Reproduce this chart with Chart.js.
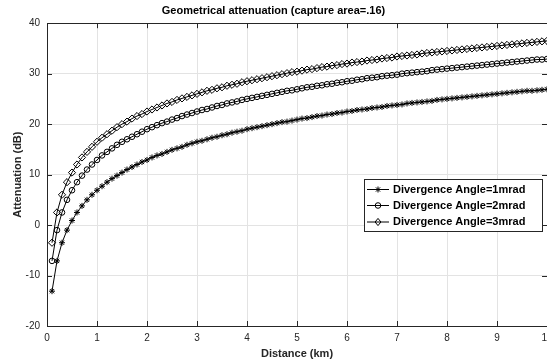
<!DOCTYPE html>
<html lang="en">
<head>
    <meta charset="UTF-8">
    <title>Geometrical attenuation</title>
    <script src="https://cdn.jsdelivr.net/npm/chart.js"></script>
    <style>
        body {
            margin: 0;
            padding: 0;
            background-color: white;
            overflow: hidden;
        }

        .frame {
            width: 547px;
            height: 362px;
            overflow: hidden;
        }

        .chart-box {
            width: 560px;
            height: 362px;
            position: relative;
        }
    </style>
</head>
<body>
<div class="frame">
    <div class="chart-box">
        <canvas id="atten-chart"></canvas>
    </div>
</div>
<script>
    // distance in km
    var distance = [0.1, 0.2, 0.3, 0.4, 0.5, 0.6, 0.7, 0.8, 0.9, 1.0,
        1.1, 1.2, 1.3, 1.4, 1.5, 1.6, 1.7, 1.8, 1.9, 2.0,
        2.1, 2.2, 2.3, 2.4, 2.5, 2.6, 2.7, 2.8, 2.9, 3.0,
        3.1, 3.2, 3.3, 3.4, 3.5, 3.6, 3.7, 3.8, 3.9, 4.0,
        4.1, 4.2, 4.3, 4.4, 4.5, 4.6, 4.7, 4.8, 4.9, 5.0,
        5.1, 5.2, 5.3, 5.4, 5.5, 5.6, 5.7, 5.8, 5.9, 6.0,
        6.1, 6.2, 6.3, 6.4, 6.5, 6.6, 6.7, 6.8, 6.9, 7.0,
        7.1, 7.2, 7.3, 7.4, 7.5, 7.6, 7.7, 7.8, 7.9, 8.0,
        8.1, 8.2, 8.3, 8.4, 8.5, 8.6, 8.7, 8.8, 8.9, 9.0,
        9.1, 9.2, 9.3, 9.4, 9.5, 9.6, 9.7, 9.8, 9.9, 10.0];

    // attenuation (dB)
    var atten1mrad = [-13.1, -7.1, -3.5, -1.0, 0.9, 2.5, 3.8, 5.0, 6.0, 6.9,
        7.7, 8.5, 9.2, 9.8, 10.4, 11.0, 11.5, 12.0, 12.5, 12.9,
        13.4, 13.8, 14.1, 14.5, 14.9, 15.2, 15.5, 15.9, 16.2, 16.5,
        16.7, 17.0, 17.3, 17.5, 17.8, 18.0, 18.3, 18.5, 18.7, 19.0,
        19.2, 19.4, 19.6, 19.8, 20.0, 20.2, 20.4, 20.5, 20.7, 20.9,
        21.1, 21.2, 21.4, 21.6, 21.7, 21.9, 22.0, 22.2, 22.3, 22.5,
        22.6, 22.8, 22.9, 23.0, 23.2, 23.3, 23.4, 23.6, 23.7, 23.8,
        23.9, 24.1, 24.2, 24.3, 24.4, 24.5, 24.6, 24.8, 24.9, 25.0,
        25.1, 25.2, 25.3, 25.4, 25.5, 25.6, 25.7, 25.8, 25.9, 26.0,
        26.1, 26.2, 26.3, 26.4, 26.5, 26.6, 26.6, 26.7, 26.8, 26.9];

    var atten2mrad = [-7.1, -1.0, 2.5, 5.0, 6.9, 8.5, 9.8, 11.0, 12.0, 12.9,
        13.8, 14.5, 15.2, 15.9, 16.5, 17.0, 17.5, 18.0, 18.5, 19.0,
        19.4, 19.8, 20.2, 20.5, 20.9, 21.2, 21.6, 21.9, 22.2, 22.5,
        22.8, 23.0, 23.3, 23.6, 23.8, 24.1, 24.3, 24.5, 24.8, 25.0,
        25.2, 25.4, 25.6, 25.8, 26.0, 26.2, 26.4, 26.6, 26.7, 26.9,
        27.1, 27.3, 27.4, 27.6, 27.7, 27.9, 28.0, 28.2, 28.3, 28.5,
        28.6, 28.8, 28.9, 29.1, 29.2, 29.3, 29.5, 29.6, 29.7, 29.8,
        30.0, 30.1, 30.2, 30.3, 30.4, 30.5, 30.7, 30.8, 30.9, 31.0,
        31.1, 31.2, 31.3, 31.4, 31.5, 31.6, 31.7, 31.8, 31.9, 32.0,
        32.1, 32.2, 32.3, 32.4, 32.5, 32.6, 32.7, 32.8, 32.8, 32.9];

    var atten3mrad = [-3.5, 2.5, 6.0, 8.5, 10.4, 12.0, 13.4, 14.5, 15.5, 16.5,
        17.3, 18.0, 18.7, 19.4, 20.0, 20.5, 21.1, 21.6, 22.0, 22.5,
        22.9, 23.3, 23.7, 24.1, 24.4, 24.8, 25.1, 25.4, 25.7, 26.0,
        26.3, 26.6, 26.8, 27.1, 27.3, 27.6, 27.8, 28.0, 28.3, 28.5,
        28.7, 28.9, 29.1, 29.3, 29.5, 29.7, 29.9, 30.1, 30.3, 30.4,
        30.6, 30.8, 30.9, 31.1, 31.3, 31.4, 31.6, 31.7, 31.9, 32.0,
        32.2, 32.3, 32.4, 32.6, 32.7, 32.8, 33.0, 33.1, 33.2, 33.4,
        33.5, 33.6, 33.7, 33.8, 34.0, 34.1, 34.2, 34.3, 34.4, 34.5,
        34.6, 34.7, 34.8, 34.9, 35.0, 35.1, 35.2, 35.3, 35.4, 35.5,
        35.6, 35.7, 35.8, 35.9, 36.0, 36.1, 36.2, 36.3, 36.4, 36.5];

    var seriesNames = ['Divergence Angle=1mrad', 'Divergence Angle=2mrad', 'Divergence Angle=3mrad'];
    var markerStyles = ['star', 'circle', 'rectRot'];
    var markerSizes = [3, 2.8, 3.6];

    var xTicks = [0, 1, 2, 3, 4, 5, 6, 7, 8, 9, 10];
    var yTicks = [-20, -10, 0, 10, 20, 30, 40];

    var axisColor = '#262626';

    function toPoints(values) {
        return distance.map(function (d, i) {
            return {x: d, y: values[i]};
        });
    }

    function drawMarker(ctx, style, r, x, y) {
        ctx.beginPath();
        if (style === 'star') {
            ctx.moveTo(x - r, y); ctx.lineTo(x + r, y);
            ctx.moveTo(x, y - r); ctx.lineTo(x, y + r);
            var d = r * 0.707;
            ctx.moveTo(x - d, y - d); ctx.lineTo(x + d, y + d);
            ctx.moveTo(x - d, y + d); ctx.lineTo(x + d, y - d);
        } else if (style === 'circle') {
            ctx.arc(x, y, r, 0, Math.PI * 2);
        } else {
            ctx.moveTo(x, y - r); ctx.lineTo(x + r * 0.8, y);
            ctx.lineTo(x, y + r); ctx.lineTo(x - r * 0.8, y);
            ctx.closePath();
        }
        ctx.stroke();
    }

    // box round the axes, inward ticks, and the legend (MATLAB look)
    var matlabFrame = {
        id: 'matlabFrame',
        afterDraw: function (chart) {
            var ctx = chart.ctx;
            var a = chart.chartArea;
            var xs = chart.scales.x, ys = chart.scales.y;
            ctx.save();
            ctx.strokeStyle = axisColor;
            ctx.lineWidth = 1;
            ctx.strokeRect(Math.round(a.left) + 0.5, Math.round(a.top) + 0.5,
                Math.round(a.right - a.left), Math.round(a.bottom - a.top));
            ctx.beginPath();
            xTicks.forEach(function (v) {
                var px = Math.round(xs.getPixelForValue(v)) + 0.5;
                ctx.moveTo(px, a.bottom); ctx.lineTo(px, a.bottom - 5);
                ctx.moveTo(px, a.top); ctx.lineTo(px, a.top + 5);
            });
            yTicks.forEach(function (v) {
                var py = Math.round(ys.getPixelForValue(v)) + 0.5;
                ctx.moveTo(a.left, py); ctx.lineTo(a.left + 5, py);
                ctx.moveTo(a.right, py); ctx.lineTo(a.right - 5, py);
            });
            ctx.stroke();

            // legend
            var lx = 364.5, ly = 179.5, lw = 178, lh = 52;
            ctx.fillStyle = 'white';
            ctx.fillRect(lx, ly, lw, lh);
            ctx.strokeStyle = '#262626';
            ctx.strokeRect(lx, ly, lw, lh);
            ctx.font = 'bold 11px "Liberation Sans", Arial, sans-serif';
            ctx.textBaseline = 'middle';
            ctx.textAlign = 'left';
            var rows = [189.5, 205.5, 222];
            seriesNames.forEach(function (name, i) {
                var y = rows[i];
                ctx.strokeStyle = '#000';
                ctx.beginPath();
                ctx.moveTo(367, y); ctx.lineTo(389, y);
                ctx.stroke();
                drawMarker(ctx, markerStyles[i], markerSizes[i], 378, y);
                ctx.fillStyle = '#000';
                ctx.fillText(name, 393, y);
            });
            ctx.restore();
        }
    };

    var datasetsData = [atten1mrad, atten2mrad, atten3mrad];

    var ctx = document.getElementById('atten-chart').getContext('2d');
    new Chart(ctx, {
        type: 'line',
        data: {
            datasets: datasetsData.map(function (vals, i) {
                return {
                    label: seriesNames[i],
                    data: toPoints(vals),
                    borderColor: '#000',
                    borderWidth: 1,
                    pointStyle: markerStyles[i],
                    pointRadius: markerSizes[i],
                    pointBorderColor: '#000',
                    pointBackgroundColor: 'rgba(0,0,0,0)',
                    pointBorderWidth: 1,
                    tension: 0,
                    fill: false
                };
            })
        },
        options: {
            responsive: true,
            maintainAspectRatio: false,
            animation: false,
            layout: {
                padding: {left: 0, right: 13, top: 0, bottom: 0}
            },
            plugins: {
                legend: {display: false},
                tooltip: {enabled: false},
                title: {
                    display: true,
                    text: 'Geometrical attenuation (capture area=.16)',
                    color: '#000',
                    font: {family: '"Liberation Sans", Arial, sans-serif', size: 11, weight: 'bold'},
                    padding: {top: 4, bottom: 6}
                }
            },
            scales: {
                x: {
                    type: 'linear',
                    min: 0,
                    max: 10,
                    afterFit: function (scale) { scale.height = 36; },
                    afterBuildTicks: function (scale) {
                        scale.ticks = xTicks.map(function (v) { return {value: v}; });
                    },
                    ticks: {
                        autoSkip: false,
                        maxRotation: 0,
                        padding: 6,
                        color: axisColor,
                        font: {family: '"Liberation Sans", Arial, sans-serif', size: 10}
                    },
                    grid: {color: '#e3e3e3', drawTicks: false},
                    border: {display: false},
                    title: {
                        display: true,
                        text: 'Distance (km)',
                        color: axisColor,
                        font: {family: '"Liberation Sans", Arial, sans-serif', size: 11, weight: 'bold'},
                        padding: {top: 1, bottom: 1}
                    }
                },
                y: {
                    type: 'linear',
                    min: -20,
                    max: 40,
                    afterFit: function (scale) { scale.width = 47; },
                    afterBuildTicks: function (scale) {
                        scale.ticks = yTicks.map(function (v) { return {value: v}; });
                    },
                    ticks: {
                        padding: 7,
                        color: axisColor,
                        font: {family: '"Liberation Sans", Arial, sans-serif', size: 10}
                    },
                    grid: {color: '#e3e3e3', drawTicks: false},
                    border: {display: false},
                    title: {
                        display: true,
                        text: 'Attenuation (dB)',
                        color: axisColor,
                        font: {family: '"Liberation Sans", Arial, sans-serif', size: 11, weight: 'bold'},
                        padding: {top: 11, bottom: 11}
                    }
                }
            }
        },
        plugins: [matlabFrame]
    });
</script>
</body>
</html>
